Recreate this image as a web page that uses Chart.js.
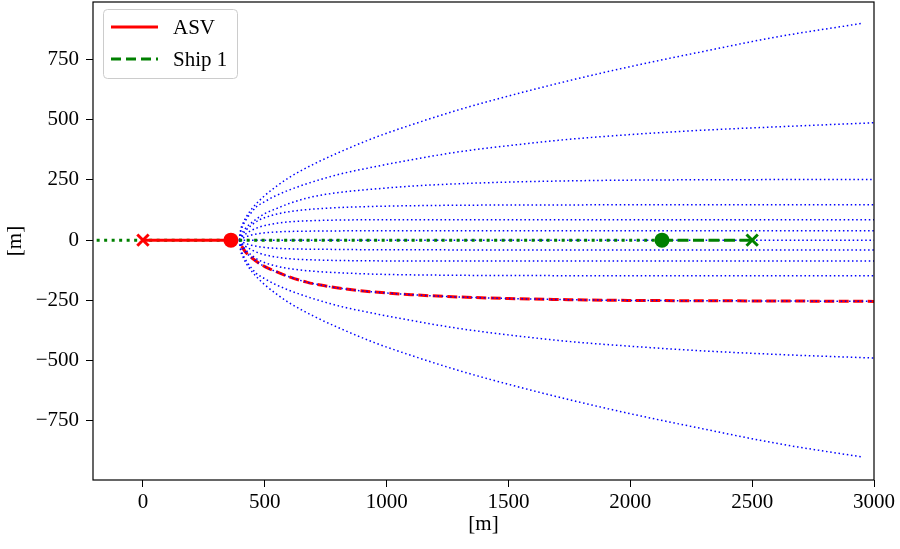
<!DOCTYPE html>
<html>
<head>
<meta charset="utf-8">
<script src="https://cdn.jsdelivr.net/npm/chart.js@4.4.1/dist/chart.umd.min.js"></script>
<style>
  html, body { margin: 0; padding: 0; background: #fff; }
  #wrap { width: 900px; height: 549px; }
</style>
</head>
<body>
<div id="wrap"><canvas id="c" width="900" height="549"></canvas></div>
<script>
// ---- tick labels ----
const xTicks = [0, 500, 1000, 1500, 2000, 2500, 3000];
const yTicks = [-750, -500, -250, 0, 250, 500, 750];

// ---- fan of candidate trajectories (blue dotted), [x, y] in metres ----
const fanC0 = [[396,0],[3000,0]];
const fanU1 = [[396,0],[405,6],[420,13],[445,21],[480,28],[530,33],[600,36],[750,38],[1000,39],[3000,39]];
const fanL1 = [[396,0],[405,-6],[420,-13],[445,-21],[480,-28],[530,-33],[600,-36],[750,-38],[1000,-40],[3000,-41]];
const fanU2 = [[396,0],[405,12],[420,25],[445,40],[480,55],[530,67],[600,76],[700,81],[850,84],[1000,85],[3000,85]];
const fanL2 = [[396,0],[405,-12],[420,-25],[445,-40],[480,-55],[530,-67],[600,-77],[700,-82],[850,-85],[1000,-86],[3000,-86]];
const fanU3 = [[396,0],[405,18],[420,38],[445,62],[480,85],[530,103],[600,118],[700,129],[800,135],[948,140],[1200,144],[1600,146],[3000,147]];
const fanL3 = [[396,0],[405,-18],[420,-38],[445,-62],[480,-85],[530,-103],[600,-118],[700,-129],[800,-135],[948,-141],[1200,-145],[1600,-147],[3000,-148]];
const fanU4 = [[396,0],[405,25],[420,48],[450,76],[500,110],[550,132],[600,152],[675,175],[750,190],[850,203],[948,212],[1100,224],[1250,232],[1500,241],[1750,246],[2000,249],[2500,251],[3000,252]];
const fanL4 = [[396,0],[405,-25],[420,-48],[450,-76],[500,-110],[550,-132],[600,-152],[675,-175],[750,-190],[850,-205],[948,-215],[1100,-226],[1250,-234],[1500,-242],[1750,-247],[2000,-250],[2500,-252],[3000,-254]];
const fanU5 = [[396,0],[400,30],[410,60],[425,88],[445,115],[465,138],[500,160],[540,182],[600,208],[675,235],[750,258],[812,275],[948,304],[1100,333],[1287,365],[1500,392],[1745,418],[2000,438],[2276,455],[2600,470],[3000,487]];
const fanL5 = [[396,0],[400,-30],[410,-60],[425,-88],[445,-115],[465,-138],[500,-160],[540,-182],[600,-208],[675,-235],[750,-258],[812,-275],[948,-304],[1100,-333],[1287,-365],[1500,-393],[1745,-420],[2000,-440],[2276,-458],[2600,-474],[3000,-489]];
const fanU6 = [[396,0],[400,38],[410,68],[425,98],[450,134],[500,185],[550,225],[600,260],[700,315],[800,362],[950,425],[1100,478],[1300,542],[1500,598],[1750,662],[2000,720],[2300,783],[2600,843],[2955,900]];
const fanL6 = [[396,0],[400,-38],[410,-68],[425,-98],[450,-134],[500,-185],[550,-225],[600,-260],[700,-315],[800,-362],[950,-425],[1100,-478],[1300,-542],[1500,-598],[1750,-662],[2000,-720],[2300,-783],[2600,-843],[2955,-900]];

// ---- ASV and ship ----
const asvPlan  = [[405,-25],[420,-48],[450,-76],[500,-110],[550,-132],[600,-152],[675,-175],[750,-190],[850,-205],[948,-215],[1100,-226],[1250,-234],[1500,-242],[1750,-247],[2000,-250],[2500,-252],[3000,-254]];
const asvPath  = [[0,0],[361,0]];
const asvStart = [[0,0]];
const asvNow   = [[361,0]];
const shipPred = [[-190,0],[2130,0]];
const shipPath = [[2130,0],[2500,0]];
const shipNow  = [[2130,0]];
const shipStart= [[2500,0]];

const pts = a => a.map(([x, y]) => ({x, y}));
const FONT = "'Liberation Serif', 'DejaVu Serif', serif";
const BLUE = '#0000ff', RED = '#ff0000', GREEN = '#008000';

function fan(arr) {
  return { data: pts(arr), showLine: true, borderColor: BLUE, borderWidth: 1.5,
           borderDash: [1.5, 2.7], pointRadius: 0, cubicInterpolationMode: 'monotone', order: 5 };
}

const datasets = [
  { data: pts(asvPlan), showLine: true, borderColor: RED, borderWidth: 3, borderDash: [10, 4.5],
    pointRadius: 0, cubicInterpolationMode: 'monotone', order: 10 },
  fan(fanC0), fan(fanU1), fan(fanL1), fan(fanU2), fan(fanL2), fan(fanU3), fan(fanL3),
  fan(fanU4), fan(fanL4), fan(fanU5), fan(fanL5), fan(fanU6), fan(fanL6),
  { data: pts(shipPred), showLine: true, borderColor: GREEN, borderWidth: 3, borderDash: [3, 4.5], pointRadius: 0, order: 4 },
  { data: pts(asvPath), showLine: true, borderColor: RED, borderWidth: 3, pointRadius: 0, order: 3 },
  { data: pts(shipPath), showLine: true, borderColor: GREEN, borderWidth: 3, borderDash: [11, 4.5], pointRadius: 0, order: 3 },
  { data: pts(asvStart), showLine: false, pointStyle: 'crossRot', pointRadius: 8, borderColor: RED, pointBorderWidth: 3, order: 1, clip: false },
  { data: pts(asvNow), showLine: false, pointStyle: 'circle', pointRadius: 7.5, backgroundColor: RED, borderColor: RED, pointBorderWidth: 0, order: 1, clip: false },
  { data: pts(shipNow), showLine: false, pointStyle: 'circle', pointRadius: 7.5, backgroundColor: GREEN, borderColor: GREEN, pointBorderWidth: 0, order: 1, clip: false },
  { data: pts(shipStart), showLine: false, pointStyle: 'crossRot', pointRadius: 8, borderColor: GREEN, pointBorderWidth: 3, order: 1, clip: false },
];

const legendItems = [
  { label: 'ASV', color: RED, dash: [] },
  { label: 'Ship 1', color: GREEN, dash: [10, 5] },
];

const framePlugin = {
  id: 'frame',
  afterDraw(chart) {
    const {ctx, chartArea: a} = chart;
    ctx.save();
    ctx.strokeStyle = '#000';
    ctx.lineWidth = 1.2;
    ctx.strokeRect(a.left, a.top, a.right - a.left, a.bottom - a.top);
    // legend
    const bx = 103.5, by = 9.5, bw = 134, bh = 69;
    ctx.beginPath();
    ctx.roundRect(bx, by, bw, bh, 4);
    ctx.fillStyle = 'rgba(255,255,255,0.8)';
    ctx.fill();
    ctx.strokeStyle = '#cccccc';
    ctx.lineWidth = 1;
    ctx.stroke();
    ctx.font = '21px ' + FONT;
    ctx.textBaseline = 'middle';
    legendItems.forEach((it, i) => {
      const y = 27 + i * 32;
      ctx.beginPath();
      ctx.setLineDash(it.dash);
      ctx.strokeStyle = it.color;
      ctx.lineWidth = 3;
      ctx.moveTo(111, y); ctx.lineTo(158, y);
      ctx.stroke();
      ctx.setLineDash([]);
      ctx.fillStyle = '#000';
      ctx.fillText(it.label, 173, y + 1);
    });
    ctx.restore();
  }
};

const fmt = v => String(v).replace('-', '\u2212');

new Chart(document.getElementById('c'), {
  type: 'scatter',
  data: { datasets },
  options: {
    responsive: false,
    animation: false,
    devicePixelRatio: 1,
    layout: { autoPadding: false, padding: { top: 2, right: 26, left: 0, bottom: 0 } },
    plugins: { legend: { display: false }, tooltip: { enabled: false } },
    scales: {
      x: {
        type: 'linear', min: -205, max: 3000,
        afterBuildTicks: s => { s.ticks = xTicks.map(v => ({ value: v })); },
        afterFit: s => { s.height = 69; s.paddingLeft = 0; s.paddingRight = 0; },
        ticks: { callback: fmt, color: '#000', font: { family: FONT, size: 21 }, padding: 3, maxRotation: 0, autoSkip: false },
        grid: { drawOnChartArea: false, drawTicks: true, tickLength: 7, color: '#000', lineWidth: 1 },
        border: { display: false },
        title: { display: true, text: '[m]', color: '#000', font: { family: FONT, size: 21 }, padding: { top: 0, bottom: 12 } }
      },
      y: {
        type: 'linear', min: -995, max: 988,
        afterBuildTicks: s => { s.ticks = yTicks.map(v => ({ value: v })); },
        afterFit: s => { s.width = 93; s.paddingTop = 0; s.paddingBottom = 0; },
        ticks: { callback: fmt, color: '#000', font: { family: FONT, size: 21 }, padding: 7, autoSkip: false },
        grid: { drawOnChartArea: false, drawTicks: true, tickLength: 7, color: '#000', lineWidth: 1 },
        border: { display: false },
        title: { display: true, text: '[m]', color: '#000', font: { family: FONT, size: 21 }, padding: { top: 3, bottom: 0 } }
      }
    }
  },
  plugins: [framePlugin]
});
</script>
</body>
</html>
